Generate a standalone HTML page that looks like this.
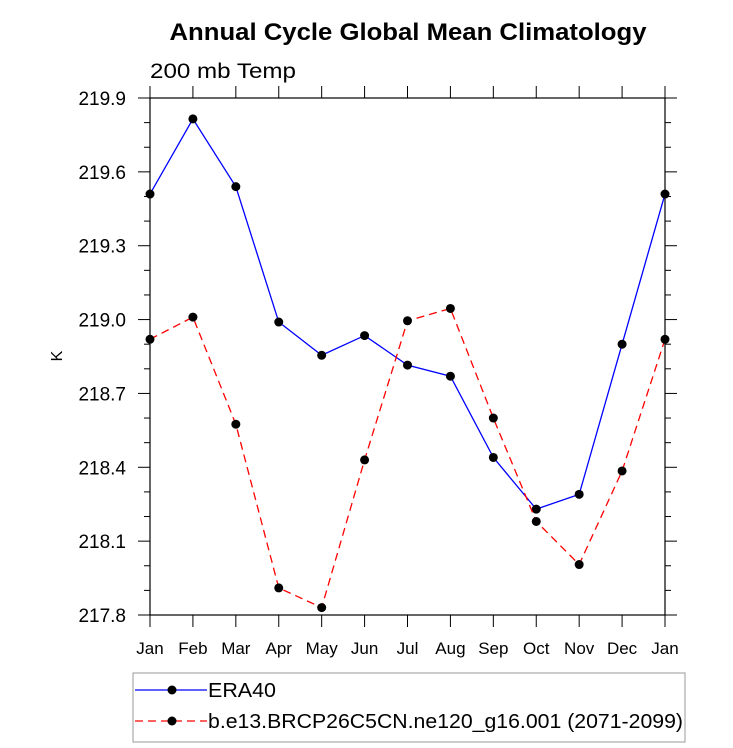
<!DOCTYPE html>
<html><head><meta charset="utf-8"><style>body{margin:0;background:#fff}svg{display:block}text{font-family:"Liberation Sans",sans-serif}</style></head>
<body>
<svg id="chart" width="733" height="748">
<text x="408" y="40" text-anchor="middle" font-size="24" font-weight="bold" textLength="477" lengthAdjust="spacingAndGlyphs">Annual Cycle Global Mean Climatology</text>
<text x="150" y="78" font-size="21" textLength="146" lengthAdjust="spacingAndGlyphs">200 mb Temp</text>
<text x="62" y="356" font-size="16" text-anchor="middle" transform="rotate(-90 62 356)">K</text>
<g id="axes"></g>
<g id="series"></g>
<rect x="133" y="673" width="552" height="69" fill="none" stroke="#999"/>
<line x1="135" y1="690" x2="207" y2="690" stroke="#00f" stroke-width="1.3"/>
<circle cx="172" cy="690" r="4.5"/>
<text x="208" y="697" font-size="20" textLength="68" lengthAdjust="spacingAndGlyphs">ERA40</text>
<line x1="135" y1="721" x2="207" y2="721" stroke="#f00" stroke-width="1.3" stroke-dasharray="8,5"/>
<circle cx="172" cy="721" r="4.5"/>
<text x="208" y="728" font-size="20" textLength="475" lengthAdjust="spacingAndGlyphs">b.e13.BRCP26C5CN.ne120_g16.001 (2071-2099)</text>
</svg>
<script>
const months=["Jan","Feb","Mar","Apr","May","Jun","Jul","Aug","Sep","Oct","Nov","Dec","Jan"];
const era40=[219.51,219.815,219.54,218.99,218.855,218.935,218.815,218.77,218.44,218.23,218.29,218.90,219.51];
const model=[218.92,219.01,218.575,217.91,217.83,218.43,218.995,219.045,218.60,218.18,218.005,218.385,218.92];
const yTicks=["217.8","218.1","218.4","218.7","219.0","219.3","219.6","219.9"];
const L=150,R=665,T=98,B=615,ymin=217.8,ymax=219.9;
const NS="http://www.w3.org/2000/svg";
const xs=i=>L+i*(R-L)/(months.length-1);
const ys=v=>B-(v-ymin)/(ymax-ymin)*(B-T);
const ax=document.getElementById('axes'),sg=document.getElementById('series');
function mk(tag,at,p){const e=document.createElementNS(NS,tag);for(const k in at)e.setAttribute(k,at[k]);p.appendChild(e);return e;}
const fr=mk('rect',{x:L,y:T,width:R-L,height:B-T,fill:'none',stroke:'#000','stroke-width':1.2},ax);


months.forEach((m,i)=>{const x=xs(i);
 mk('line',{x1:x,y1:B,x2:x,y2:B+12,stroke:'#000'},ax);
 mk('line',{x1:x,y1:T,x2:x,y2:T-12,stroke:'#000'},ax);
 const t=mk('text',{x:x,y:B+39,'font-size':17,'text-anchor':'middle'},ax);t.textContent=m;
 
 
});
for(let v=ymin;v<=ymax+1e-6;v+=0.1){const y=ys(v);const maj=Math.round((v-ymin)*10)%3===0;const l=maj?12:6;
 mk('line',{x1:L,y1:y,x2:L-l,y2:y,stroke:'#000'},ax);
 mk('line',{x1:R,y1:y,x2:R+l,y2:y,stroke:'#000'},ax);}
yTicks.forEach(s=>{const t=mk('text',{x:L-24,y:ys(parseFloat(s))+7,'font-size':19,'text-anchor':'end'},ax);t.textContent=s;
 
 
});
function series(d,col,dash,name){
 const pl=mk('polyline',{points:d.map((v,i)=>xs(i)+','+ys(v)).join(' '),fill:'none',stroke:col,'stroke-width':1.3,'stroke-dasharray':dash},sg);
 
 
 d.forEach((v,i)=>{const c=mk('circle',{cx:xs(i),cy:ys(v),r:4.5,fill:'#000'},sg);
  
  });
}
series(era40,'#00f','none','era40');
series(model,'#f00','8,5','model');
</script>
</body></html>
